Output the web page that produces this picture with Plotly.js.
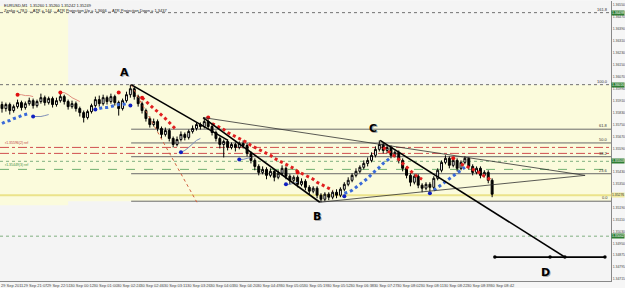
<!DOCTYPE html>
<html><head><meta charset="utf-8">
<script src="https://cdn.plot.ly/plotly-3.0.1.min.js"></script>
<style>html,body{margin:0;padding:0;background:#f6f6f6;}#chart{width:625px;height:288px;}</style>
</head><body><div id="chart"></div>
<script>
// ---- candle data (bar index, EURUSD prices) ----
const barOpen = [1.35883,1.35856,1.35883,1.35843,1.35869,1.35896,1.35863,1.35889,1.35909,1.35876,1.35903,1.35929,1.35896,1.35923,1.35883,1.35909,1.35936,1.35903,1.35869,1.35889,1.35856,1.35829,1.35796,1.35836,1.35876,1.35916,1.35889,1.35929,1.35903,1.35936,1.35896,1.35856,1.35909,1.35949,1.35989,1.35936,1.35889,1.35843,1.35789,1.35749,1.35769,1.35723,1.35683,1.35709,1.35656,1.35616,1.35649,1.35683,1.35663,1.35703,1.35723,1.35749,1.35736,1.35769,1.35736,1.35696,1.35656,1.35616,1.35636,1.35596,1.35616,1.35596,1.35623,1.35609,1.35556,1.35509,1.35469,1.35429,1.35449,1.35409,1.35436,1.35396,1.35423,1.35456,1.35403,1.35376,1.35396,1.35349,1.35369,1.35329,1.35303,1.35323,1.35276,1.35249,1.35283,1.35263,1.35296,1.35276,1.35316,1.35349,1.35376,1.35409,1.35436,1.35463,1.35489,1.35509,1.35543,1.35583,1.35616,1.35576,1.35596,1.35543,1.35563,1.35509,1.35456,1.35409,1.35363,1.35403,1.35343,1.35323,1.35349,1.35329,1.35389,1.35443,1.35496,1.35523,1.35476,1.35509,1.35456,1.35496,1.35523,1.35469,1.35429,1.35456,1.35409,1.35429,1.35376];
const barHigh = [1.35903,1.35896,1.35896,1.35883,1.35916,1.35909,1.35903,1.35929,1.35923,1.35916,1.35956,1.35943,1.35936,1.35936,1.35929,1.35963,1.35949,1.35916,1.35909,1.35903,1.35869,1.35843,1.35849,1.35889,1.35936,1.35943,1.35949,1.35943,1.35956,1.35949,1.35909,1.35923,1.35969,1.36016,1.36003,1.35949,1.35903,1.35856,1.35803,1.35789,1.35783,1.35736,1.35729,1.35723,1.35669,1.35669,1.35703,1.35696,1.35716,1.35743,1.35763,1.35763,1.35796,1.35783,1.35749,1.35709,1.35669,1.35649,1.35649,1.35629,1.35629,1.35636,1.35643,1.35623,1.35569,1.35523,1.35483,1.35469,1.35463,1.35456,1.35449,1.35443,1.35476,1.35469,1.35416,1.35409,1.35409,1.35389,1.35383,1.35343,1.35336,1.35336,1.35289,1.35296,1.35296,1.35309,1.35316,1.35329,1.35363,1.35396,1.35423,1.35456,1.35476,1.35509,1.35529,1.35563,1.35603,1.35643,1.35629,1.35609,1.35609,1.35576,1.35576,1.35523,1.35469,1.35423,1.35416,1.35416,1.35356,1.35363,1.35363,1.35403,1.35456,1.35509,1.35543,1.35536,1.35523,1.35523,1.35509,1.35536,1.35529,1.35483,1.35469,1.35469,1.35443,1.35443,1.35389];
const barLow = [1.35829,1.35836,1.35816,1.35829,1.35856,1.35843,1.35849,1.35876,1.35856,1.35863,1.35889,1.35876,1.35883,1.35863,1.35869,1.35896,1.35883,1.35849,1.35856,1.35836,1.35803,1.35763,1.35783,1.35823,1.35863,1.35869,1.35876,1.35883,1.35889,1.35876,1.35809,1.35843,1.35896,1.35929,1.35916,1.35869,1.35823,1.35769,1.35729,1.35736,1.35703,1.35656,1.35669,1.35636,1.35596,1.35603,1.35636,1.35643,1.35649,1.35689,1.35709,1.35716,1.35723,1.35716,1.35676,1.35636,1.35589,1.35529,1.35576,1.35583,1.35569,1.35583,1.35589,1.35536,1.35489,1.35443,1.35409,1.35416,1.35383,1.35396,1.35369,1.35383,1.35409,1.35383,1.35349,1.35363,1.35329,1.35336,1.35309,1.35283,1.35289,1.35256,1.35229,1.35236,1.35243,1.35249,1.35256,1.35263,1.35303,1.35336,1.35363,1.35396,1.35423,1.35449,1.35469,1.35496,1.35529,1.35569,1.35556,1.35556,1.35523,1.35529,1.35489,1.35436,1.35389,1.35336,1.35349,1.35323,1.35296,1.35309,1.35303,1.35316,1.35376,1.35429,1.35483,1.35456,1.35463,1.35436,1.35443,1.35483,1.35449,1.35409,1.35416,1.35389,1.35396,1.35356,1.35263];
const barClose = [1.35856,1.35883,1.35843,1.35869,1.35896,1.35863,1.35889,1.35909,1.35876,1.35903,1.35929,1.35896,1.35923,1.35883,1.35909,1.35936,1.35903,1.35869,1.35889,1.35856,1.35829,1.35796,1.35836,1.35876,1.35916,1.35889,1.35929,1.35903,1.35936,1.35896,1.35856,1.35909,1.35949,1.35989,1.35936,1.35889,1.35843,1.35789,1.35749,1.35769,1.35723,1.35683,1.35709,1.35656,1.35616,1.35649,1.35683,1.35663,1.35703,1.35723,1.35749,1.35736,1.35769,1.35736,1.35696,1.35656,1.35616,1.35636,1.35596,1.35616,1.35596,1.35623,1.35609,1.35556,1.35509,1.35469,1.35429,1.35449,1.35409,1.35436,1.35396,1.35423,1.35456,1.35403,1.35376,1.35396,1.35349,1.35369,1.35329,1.35303,1.35323,1.35276,1.35249,1.35283,1.35263,1.35296,1.35276,1.35316,1.35349,1.35376,1.35409,1.35436,1.35463,1.35489,1.35509,1.35543,1.35583,1.35616,1.35576,1.35596,1.35543,1.35563,1.35509,1.35456,1.35409,1.35363,1.35403,1.35343,1.35323,1.35349,1.35329,1.35389,1.35443,1.35496,1.35523,1.35476,1.35509,1.35456,1.35496,1.35523,1.35469,1.35429,1.35456,1.35409,1.35429,1.35376,1.35283];

// ---- time axis labels (every 6th bar) ----
const timeTickBars = [0,6,12,18,24,30,36,42,48,54,60,66,72,78,84,90,96,102,108,114,120,126];
const timeTickText = ["29 Sep 2011","29 Sep 21:07","29 Sep 22:51","30 Sep 00:12","30 Sep 01:00","30 Sep 02:24","30 Sep 02:46","30 Sep 03:11","30 Sep 03:26","30 Sep 04:03","30 Sep 04:20","30 Sep 04:49","30 Sep 05:05","30 Sep 05:19","30 Sep 05:52","30 Sep 06:38","30 Sep 07:27","30 Sep 08:02","30 Sep 08:11","30 Sep 08:22","30 Sep 08:39","30 Sep 08:42"];

// ---- price axis labels (those hidden behind line labels left out) ----
const priceTicks = [1.34715,1.34795,1.34875,1.34950,1.35030,1.35110,1.35190,1.35350,1.35430,1.35590,1.35670,1.35750,1.35830,1.35910,1.35990,1.36070,1.36150,1.36230,1.36310,1.36390,1.36470,1.36550];

// ---- indicator trail (bands, thin lines, dots) ----
const redBandX = [36,37,38,39,40,41,42,43,44,45,null,54,55,56,57,58,59,60,61,62,63,64,65,66,67,68,69,70,71,72,73,74,75,76,77,78,79,80,81,82,83,84,85,null,98,99,100,101,102,103,104,105,106,107,108,null,118,119,120,121,122,123,124,125,126];
const redBandY = [1.35929,1.35903,1.35883,1.35856,1.35836,1.35809,1.35789,1.35763,1.35736,1.35709,null,1.35756,1.35743,1.35729,1.35716,1.35696,1.35683,1.35669,1.35656,1.35643,1.35629,1.35609,1.35596,1.35583,1.35569,1.35556,1.35543,1.35523,1.35509,1.35496,1.35483,1.35469,1.35456,1.35436,1.35423,1.35409,1.35396,1.35383,1.35363,1.35349,1.35336,1.35323,1.35309,null,1.35596,1.35576,1.35556,1.35536,1.35516,1.35489,1.35463,1.35436,1.35416,1.35396,1.35383,null,1.35483,1.35476,1.35463,1.35449,1.35436,1.35423,1.35403,1.35389,1.35369];
const blueBandX = [0,1,2,3,4,5,6,7,null,25,26,27,28,29,30,31,32,null,88,89,90,91,92,93,94,95,96,97,98,99,100,null,111,112,113,114,115,116,117,118,119];
const blueBandY = [1.35756,1.35769,1.35776,1.35789,1.35796,1.35809,1.35816,1.35823,null,1.35856,1.35863,1.35863,1.35869,1.35876,1.35883,1.35883,1.35889,null,1.35289,1.35296,1.35309,1.35329,1.35349,1.35369,1.35389,1.35416,1.35443,1.35463,1.35489,1.35509,1.35529,null,1.35309,1.35329,1.35349,1.35369,1.35389,1.35409,1.35429,1.35449,1.35463];
const thinRedX = [4,5,6,7,8,null,15,16,17,18,19,20];
const thinRedY = [1.35949,1.35949,1.35943,1.35943,1.35936,null,1.35963,1.35963,1.35949,1.35929,1.35916,1.35903];
const thinBlueX = [8,9,10,11,12,null,46,47,48,49,50,51,null,61,62,63,64,null,73,74,75,76];
const thinBlueY = [1.35803,1.35803,1.35803,1.35809,1.35816,null,1.35563,1.35576,1.35596,1.35623,1.35643,1.35656,null,1.35516,1.35516,1.35523,1.35529,null,1.35349,1.35349,1.35356,1.35363];
const redDotX = [4,15,30,36,53,76,116];
const redDotY = [1.35949,1.35963,1.35963,1.35929,1.35796,1.35429,1.35523];
const blueDotX = [8,24,33,46,61,73,88,110];
const blueDotY = [1.35803,1.35849,1.35876,1.35563,1.35516,1.35349,1.35269,1.35289];

// ---- drawn objects (anchors: bar index, price) ----
const lineAX = [33.2,58.1], lineAY = [1.36016,1.35643];
const lineHBX = [51.7,81.7], lineHBY = [1.35796,1.35229];
const upperTriX = [51.7,149.9], upperTriY = [1.35796,1.35409];
const lowerTriX = [81.7,149.9], lowerTriY = [1.35229,1.35409];
const lineCDX = [97.2,144.7], lineCDY = [1.35643,1.34862];
const lineDX = [126.7,140.9,144.7,155.0], lineDY = [1.34862,1.34862,1.34862,1.34862];
const redDiagX = [33.2,50.1], redDiagY = [1.36016,1.35229];
const fibLevels = [1.35236,1.35420,1.35534,1.35626,1.35718];
const fibNames = ["0.0","23.6","38.2","50.0","61.8"];
const fibFullLevels = [1.36016,1.36498];
const fibFullNames = ["100.0","161.8"];
const fibStartBar = 33.2;
const redRefLevels = [1.35596,1.35556];
const greenRoundLevels = [1.35503,1.35002];
const greenRefLevel = 1.35449;
const bidLevel = 1.35276;
const pointLabels = ["A","B","C","D"];
const pointLabelX = [31.6,81.0,95.4,139.6];
const pointLabelY = [1.36096,1.35135,1.35722,1.34762];

const X0 = -0.514, X1 = 156.56, Y0 = 1.34702, Y1 = 1.36576;

const traces = [];
const lineTrace = (x,y,color,width,dash,mode,msize) => ({type:'scatter',mode:mode||'lines',x:x,y:y,
  line:{color:color,width:width,dash:dash||'solid'},marker:{size:msize||3,color:color},hoverinfo:'skip',showlegend:false,connectgaps:false});

traces.push(lineTrace(redDiagX,redDiagY,'#d06040',1,'dot'));
traces.push(lineTrace(thinRedX,thinRedY,'#e09080',1));
traces.push(lineTrace(thinBlueX,thinBlueY,'#7f8fb8',1));
traces.push({type:'candlestick',x:barOpen.map((v,i)=>i),open:barOpen,high:barHigh,low:barLow,close:barClose,
  increasing:{line:{color:'#000000',width:1},fillcolor:'#ffffff'},
  decreasing:{line:{color:'#000000',width:1},fillcolor:'#000000'},
  whiskerwidth:0,hoverinfo:'skip',showlegend:false});
traces.push(lineTrace(redBandX,redBandY,'#e02020',3,'dot'));
traces.push(lineTrace(blueBandX,blueBandY,'#3a6ad8',3,'dot'));
traces.push({type:'scatter',mode:'markers',x:redDotX,y:redDotY,marker:{size:4,color:'#e01010'},hoverinfo:'skip',showlegend:false});
traces.push({type:'scatter',mode:'markers',x:blueDotX,y:blueDotY,marker:{size:4,color:'#1020c0'},hoverinfo:'skip',showlegend:false});
traces.push(lineTrace(lineAX,lineAY,'#000000',1.6));
traces.push(lineTrace(lineHBX,lineHBY,'#000000',1.6));
traces.push(lineTrace(upperTriX,upperTriY,'#303030',0.8));
traces.push(lineTrace(lowerTriX,lowerTriY,'#303030',0.8));
traces.push(lineTrace(lineCDX,lineCDY,'#000000',1.6));
traces.push(lineTrace(lineDX,lineDY,'#000000',1.6,'solid','lines+markers',3.5));

const shapes = [];
shapes.push({type:'rect',xref:'x',yref:'y',x0:X0,x1:17,y0:1.35209,y1:1.36543,fillcolor:'#fbfbdc',line:{width:0},layer:'below'});
shapes.push({type:'rect',xref:'x',yref:'y',x0:X0,x1:X1,y0:1.35236,y1:1.36016,fillcolor:'#fbfbdc',line:{width:0},layer:'below'});
fibFullLevels.forEach(v=>shapes.push({type:'line',xref:'x',yref:'y',x0:X0,x1:X1,y0:v,y1:v,line:{color:'#707070',width:1,dash:'dot'},layer:'below'}));
fibLevels.forEach(v=>shapes.push({type:'line',xref:'x',yref:'y',x0:fibStartBar,x1:X1,y0:v,y1:v,line:{color:'#6a6a6a',width:1},layer:'below'}));
redRefLevels.forEach(v=>shapes.push({type:'line',xref:'x',yref:'y',x0:X0,x1:X1,y0:v,y1:v,line:{color:'#d05050',width:1,dash:'dashdot'},layer:'below'}));
greenRoundLevels.forEach(v=>shapes.push({type:'line',xref:'x',yref:'y',x0:X0,x1:X1,y0:v,y1:v,line:{color:'#80b080',width:1,dash:'dot'},layer:'below'}));
shapes.push({type:'line',xref:'x',yref:'y',x0:X0,x1:X1,y0:greenRefLevel,y1:greenRefLevel,line:{color:'#70b070',width:1,dash:'dash'},layer:'below'});
shapes.push({type:'line',xref:'x',yref:'y',x0:X0,x1:X1,y0:bidLevel,y1:bidLevel,line:{color:'#ebe38a',width:2},layer:'below'});

const annotations = [];
const fnt = (s,c) => ({family:'Liberation Sans, Arial, sans-serif',size:s,color:c||'#333333'});
fibLevels.concat(fibFullLevels).forEach((v,k)=>{
  const name = fibNames.concat(fibFullNames)[k];
  annotations.push({xref:'x',yref:'y',x:X1-0.3,y:v,text:name,showarrow:false,xanchor:'right',yanchor:'bottom',font:fnt(4,'#333'),yshift:-1});
});
pointLabels.forEach((t,k)=>{
  annotations.push({xref:'x',yref:'y',x:pointLabelX[k],y:pointLabelY[k],text:'<b>'+t+'</b>',showarrow:false,font:{family:'DejaVu Sans, sans-serif',size:11,color:'#aaaaaa'},xshift:1,yshift:-1});
  annotations.push({xref:'x',yref:'y',x:pointLabelX[k],y:pointLabelY[k],text:'<b>'+t+'</b>',showarrow:false,font:{family:'DejaVu Sans, sans-serif',size:11,color:'#000000'}});
});
[fibFullLevels[1],fibFullLevels[0],greenRoundLevels[0],greenRoundLevels[1]].forEach(v=>{
  annotations.push({xref:'paper',yref:'y',x:1,y:v,xanchor:'left',text:v.toFixed(5),showarrow:false,bgcolor:'#2e7d32',font:fnt(3.4,'#ffffff'),borderpad:0});
});
annotations.push({xref:'paper',yref:'y',x:1,y:bidLevel,xanchor:'left',text:bidLevel.toFixed(5),showarrow:false,bgcolor:'#efe9a0',font:fnt(3.4,'#333'),borderpad:0});
annotations.push({xref:'x',yref:'y',x:X0+0.8,y:redRefLevels[0],xanchor:'left',yanchor:'bottom',text:'r1.35596(2) ref',showarrow:false,font:fnt(3.5,'#c04040')});
annotations.push({xref:'x',yref:'y',x:X0+0.8,y:greenRefLevel,xanchor:'left',yanchor:'bottom',text:'r1.35449(3) ref',showarrow:false,font:fnt(3.5,'#409040')});
annotations.push({xref:'paper',yref:'paper',x:0.004,y:1,xanchor:'left',yanchor:'top',yshift:0,text:'EURUSD,M1  1.35260 1.35260 1.35242 1.35249',showarrow:false,font:fnt(4,'#222')});
annotations.push({xref:'paper',yref:'paper',x:0.004,y:1,xanchor:'left',yanchor:'top',yshift:-5,text:'Zenko = 78.5 ... ATR = 144 ... ATR Projection Up = 1.3666 ... ATR Projection Down = 1.3437',showarrow:false,font:fnt(4,'#222')});

const layout = {
  width:625,height:288,margin:{l:0,r:14,t:1,b:7},
  paper_bgcolor:'#f6f6f6',plot_bgcolor:'#f4f4f4',
  showlegend:false,
  xaxis:{range:[X0,X1],type:'linear',rangeslider:{visible:false},showgrid:false,zeroline:false,
    tickvals:timeTickBars.map(v=>v+2.6),ticktext:timeTickText,tickfont:fnt(4,'#444'),ticks:'',
    showline:true,linecolor:'#888888',linewidth:1,tickangle:0,automargin:false},
  yaxis:{range:[Y0,Y1],side:'right',showgrid:false,zeroline:false,tickvals:priceTicks,ticktext:priceTicks.map(v=>v.toFixed(5)),
    tickfont:fnt(3.4,'#444'),ticks:'',ticklabelstandoff:0,showline:true,linecolor:'#888888',linewidth:1,automargin:false},
  shapes:shapes,annotations:annotations
};
Plotly.newPlot('chart',traces,layout,{staticPlot:true,displayModeBar:false});
</script></body></html>
